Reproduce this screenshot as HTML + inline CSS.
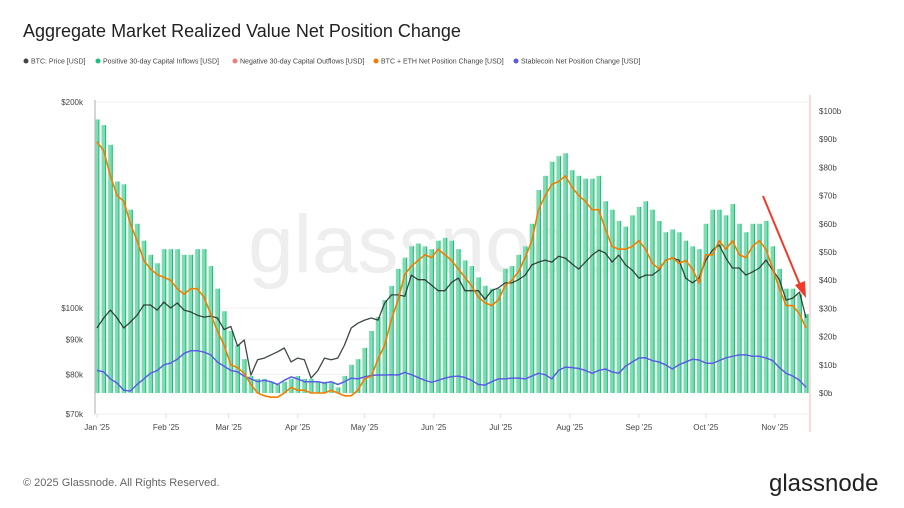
<!DOCTYPE html>
<html><head><meta charset="utf-8"><style>
body{margin:0;background:#fff;font-family:"Liberation Sans",sans-serif;}
#wrap{position:relative;width:904px;height:508px;overflow:hidden;}
</style></head><body>
<div id="wrap">
<svg id="chart" width="904" height="508" xmlns="http://www.w3.org/2000/svg">
<text x="23" y="37" font-size="18" fill="#222">Aggregate Market Realized Value Net Position Change</text>
<g font-size="7" fill="#444">
<g><circle cx="26" cy="61" r="2.5" fill="#444"/><text x="31" y="63.5">BTC: Price [USD]</text></g>
<g><circle cx="98" cy="61" r="2.5" fill="#19c37d"/><text x="103" y="63.5">Positive 30-day Capital Inflows [USD]</text></g>
<g><circle cx="235" cy="61" r="2.5" fill="#f27a7a"/><text x="240" y="63.5">Negative 30-day Capital Outflows [USD]</text></g>
<g><circle cx="376" cy="61" r="2.5" fill="#f57c00"/><text x="381" y="63.5">BTC + ETH Net Position Change [USD]</text></g>
<g><circle cx="516" cy="61" r="2.5" fill="#5a5ae6"/><text x="521" y="63.5">Stablecoin Net Position Change [USD]</text></g>
</g>
<text x="435" y="272" font-size="82" fill="#eeeeee" text-anchor="middle">glassnode</text>
<g id="grid"></g>
<g id="bars"></g>
<g id="lines"></g>
<g id="axes"></g>
<line x1="763" y1="196" x2="800" y2="285" stroke="#f03a2a" stroke-width="2"/>
<polygon points="806,298 795,285 805,281" fill="#f03a2a"/>
<text x="23" y="486" font-size="11" fill="#666">© 2025 Glassnode. All Rights Reserved.</text>
<text x="769" y="491" font-size="24" fill="#222">glassnode</text>
</svg>
</div>
<script>
const inflows=[97,95,88,75,74,65,60,54,49,46,51,
51,51,49,49,51,51,45,37,29,
22,17,12,6,5,5,4,3,4,5,
6,5,5,4,4,4,2,6,10,12,
16,22,27,33,38,44,48,52,53,52,51,
54,55,54,51,47,45,41,38,37,37,
44,45,49,52,60,72,77,82,84,85,
79,77,76,76,77,68,65,61,59,63,
66,68,65,61,57,58,57,54,52,51,
60,65,65,63,67,60,57,60,60,61,52,
44,37,37,35,28];
const btcEth=[89,86,77,70,68,60,54,47,44,42,41,
40,37,35,37,37,34,28,22,17,
10,9,7,3,0,-1,-1.5,-1.5,0,2,
1,1,0,0,0,1,0,-1,-1,1,
5,6,12,17,26,33,42,45,47,49,48,
51,49,47,44,41,38,34,32,31,33,
38,40,43,48,54,65,70,74,75,77,
73,70,68,65,65,58,52,51,51,52,
54,51,46,44,47,48,46,47,44,39,
49,49,54,51,54,49,48,52,54,51,44,
37,31,31,28,23];
const stable=[8,7.5,5,3.5,1,0.7,3,5,7,8,10,
10.6,12,14,15,15,14.5,13.5,11,9.5,
8,7.5,6,5,4,4.5,4,3,4.5,5.7,
5,4,4,4,3.5,4,3,4,5.3,5,
5.7,6.2,6.4,6.4,6.5,6.4,7.3,6.5,5.5,4.5,3.8,
4.5,5.3,5.8,6,5.5,4.5,3,2.8,4,5,
5,5.3,5.3,5,6,7,6.5,5,8,9.2,
9,8.7,8,7,8,8.5,7.5,7,9.5,11,
12.4,12.5,11.5,11,10,8.5,10,11,12,11.7,
10.6,10.5,11.5,12.5,13,13.5,13.5,13,13,12.4,11.5,
9,7,6,4.5,2];
const price=[93.5,96.7,99.3,96.7,93.5,95.4,97.6,101,101,99.3,102,
100,101.7,99.3,98.7,97.6,97,97.3,96.7,93,
94,88,89.8,79.8,84,84.5,85.4,86.3,87.4,83.4,
84.5,84,79,81,84.5,84,84.5,88.3,93.5,95,
96,96.7,96,101.7,104.5,104.5,104,111.7,110,110,108,
106,106,109,110.6,106,106,106,103,106,107,
108.8,108.8,110,111.7,115.6,116.7,117.5,116.7,119,118.3,
116,114,116.7,119.5,121.5,120.3,116.7,119.5,115.6,113.6,
110.6,111.7,111.7,113.6,117.5,118.3,117.5,110.6,108.8,110.6,
117.5,121.5,123.6,118.3,114.4,114.4,111.7,112.9,114.4,117.5,113.6,
110,102.7,103.4,105.5,96.7];
const leftTicks=[200,100,90,80,70];
const rightTicks=[0,10,20,30,40,50,60,70,80,90,100];
const months=["Jan '25","Feb '25","Mar '25","Apr '25","May '25","Jun '25","Jul '25","Aug '25","Sep '25","Oct '25","Nov '25"];
const monthDays=[0,31,59,90,120,151,181,212,243,273,304];
const STEP=3;

const NS="http://www.w3.org/2000/svg";
const xDay=d=>97+d*2.23;
const yR=v=>393-v*2.82;
const yL=p=>308-206*Math.log2(p/100);
function mk(tag,attrs,parent){const e=document.createElementNS(NS,tag);for(const k in attrs)e.setAttribute(k,attrs[k]);parent.appendChild(e);return e;}
const grid=document.getElementById('grid'),bars=document.getElementById('bars'),lines=document.getElementById('lines'),axes=document.getElementById('axes');

leftTicks.forEach(t=>{
  const y=yL(t);
  const g=mk('line',{x1:95,x2:808,y1:y,y2:y,stroke:'#f0f0f0','stroke-width':1},grid);
  
  
  const tx=mk('text',{x:83,y:y+3,'font-size':8,fill:'#444','text-anchor':'end'},axes);
  tx.textContent='$'+t+'k';
  
  
});
rightTicks.forEach(t=>{
  const tx=mk('text',{x:819,y:yR(t)+3,'font-size':8,fill:'#444'},axes);
  tx.textContent='$'+t+'b';
  
  
});
const la=mk('line',{x1:95,x2:95,y1:100,y2:414,stroke:'#bbb','stroke-width':1.2},axes);


const ra=mk('line',{x1:810,x2:810,y1:95,y2:432,stroke:'#f6b5b5','stroke-width':1},axes);


const xa=mk('line',{x1:95,x2:808,y1:414,y2:414,stroke:'#eee','stroke-width':1},axes);


months.forEach((m,i)=>{
  const x=xDay(monthDays[i]);
  const tk=mk('line',{x1:x,x2:x,y1:414,y2:418,stroke:'#ddd'},axes);
  
  
  const tx=mk('text',{x:x,y:430,'font-size':8,fill:'#444','text-anchor':'middle'},axes);
  tx.textContent=m;
  
  
});
inflows.forEach((v,i)=>{
  const x=xDay(i*STEP);
  const h=Math.max(0,yR(0)-yR(v));
  const b=mk('rect',{x:x-2.2,y:yR(v),width:4.4,height:h,fill:'#7ddcb2'},bars);
  
  
  const e=mk('rect',{x:x+1.4,y:yR(v),width:1,height:h,fill:'#17bd73'},bars);
  
  
});
function path(arr,yf,color,w,name){
  const d=arr.map((v,i)=>(i?'L':'M')+xDay(i*STEP).toFixed(1)+','+yf(v).toFixed(1)).join('');
  const p=mk('path',{d:d,fill:'none',stroke:color,'stroke-width':w,'stroke-linejoin':'round'},lines);
  
  
}
path(stable,yR,'#5c5ce8',1.5,'stablecoin-line');
path(price,yL,'rgba(30,40,35,0.85)',1.3,'btc-price-line');
path(btcEth,yR,'#f57c00',1.6,'btc-eth-line');
</script>
</body></html>
